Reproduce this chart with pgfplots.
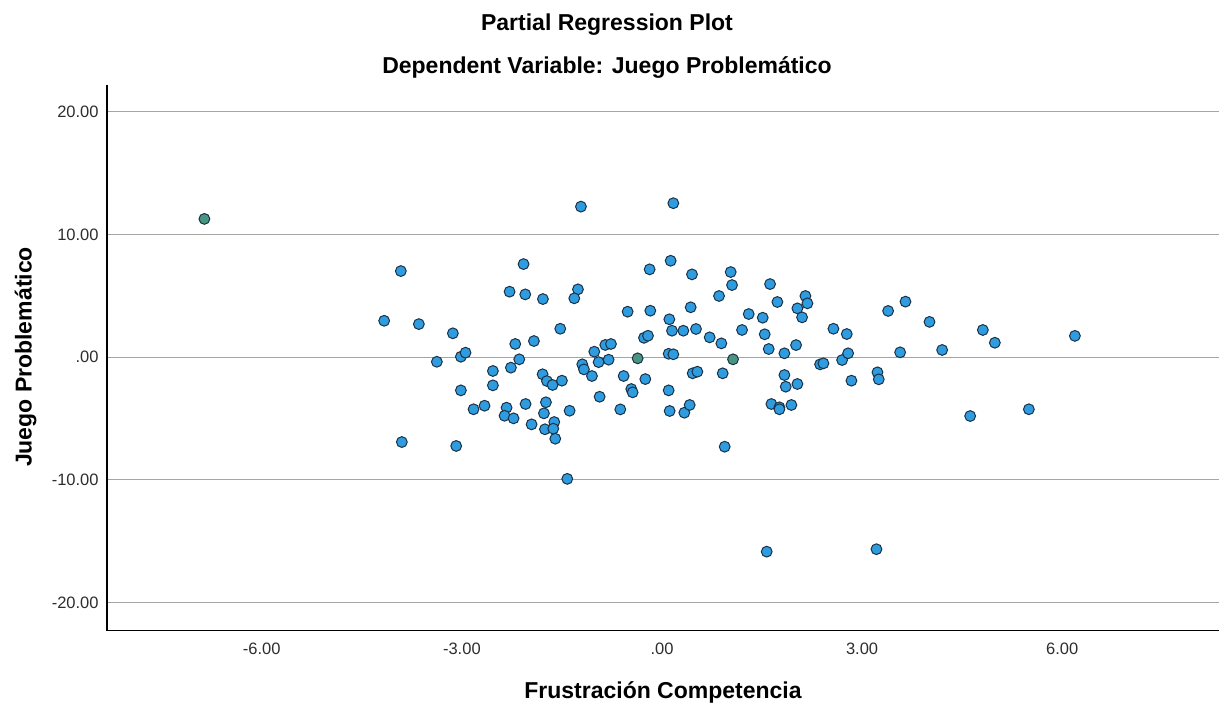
\documentclass[border=0pt]{standalone}
\usepackage{fontspec}
\setmainfont{Liberation Sans}
\usepackage{pgfplots}
\usepackage{pgfplotstable}
\pgfplotsset{compat=1.18}
\definecolor{ptfill}{RGB}{46,156,222}
\definecolor{ptedge}{RGB}{26,50,72}
\definecolor{ptgreen}{RGB}{72,150,128}
\definecolor{gridc}{RGB}{165,165,165}
\definecolor{tickc}{RGB}{45,45,45}

\pgfplotstableread{
x y
-1.42 -9.91
1.57 -15.84
3.215 -15.64
-1.215 12.27
0.17 12.55
-3.915 7.02
-2.075 7.59
-2.285 5.34
-2.05 5.12
-1.785 4.74
-1.26 5.53
-1.315 4.80
-4.165 2.97
-3.645 2.70
-3.135 1.95
-1.525 2.32
-0.185 7.16
0.13 7.86
0.45 6.75
1.03 6.94
1.05 5.88
0.855 4.99
1.62 5.96
1.73 4.50
2.15 4.99
2.18 4.39
2.03 3.98
2.10 3.25
-0.515 3.71
-0.175 3.79
0.43 4.07
0.11 3.09
1.30 3.52
1.51 3.22
2.57 2.32
2.77 1.89
0.15 2.16
0.32 2.16
0.51 2.30
1.20 2.22
1.54 1.87
3.39 3.77
3.65 4.53
4.01 2.88
4.81 2.22
4.99 1.18
6.19 1.74
-2.20 1.08
-1.92 1.32
-3.375 -0.37
-3.015 0.04
-2.945 0.37
-2.14 -0.17
-2.265 -0.85
-2.535 -1.12
-2.535 -2.29
-3.015 -2.70
-1.79 -1.39
-1.725 -1.94
-1.64 -2.26
-1.50 -1.91
-2.825 -4.24
-2.66 -3.95
-2.33 -4.11
-2.36 -4.77
-2.225 -4.98
-2.045 -3.81
-1.74 -3.67
-1.77 -4.57
-1.955 -5.47
-1.755 -5.87
-1.615 -5.28
-1.63 -5.82
-1.60 -6.64
-1.385 -4.36
-0.935 -3.22
-1.195 -0.58
-1.17 -0.99
-1.05 -1.53
-1.015 0.45
-0.95 -0.40
-0.85 1.00
-0.765 1.08
-0.80 -0.20
-3.90 -6.91
-3.085 -7.23
-0.27 1.58
-0.21 1.75
0.715 1.62
0.89 1.13
1.60 0.67
1.835 0.32
2.01 0.99
0.10 0.28
0.17 0.24
2.37 -0.58
2.42 -0.50
2.70 -0.23
2.79 0.32
2.84 -1.91
-0.575 -1.53
-0.25 -1.78
-0.46 -2.59
-0.44 -2.86
0.10 -2.70
0.46 -1.31
0.53 -1.18
0.91 -1.31
-0.625 -4.25
0.115 -4.38
0.335 -4.52
0.415 -3.89
0.94 -7.29
1.835 -1.45
1.855 -2.40
2.03 -2.18
1.64 -3.81
1.76 -4.08
1.76 -4.24
1.94 -3.89
3.57 0.40
4.20 0.59
3.23 -1.23
3.25 -1.80
4.62 -4.79
5.50 -4.24
}\bluepts

\pgfplotstableread{
x y
-6.86 11.27
1.065 -0.17
-0.365 -0.09
}\greenpts

\begin{document}
\begin{tikzpicture}
\path[use as bounding box] (0,0) rectangle (610.5pt,353pt);
\node[anchor=base, font=\fontsize{11.5}{13}\selectfont\bfseries] at (303.5pt,337.65pt) {Partial Regression Plot};
\node[anchor=base, font=\fontsize{11.5}{13}\selectfont\bfseries] at (303.5pt,316pt) {Dependent Variable: Juego Problemático};
\node[anchor=base, font=\fontsize{11.5}{13}\selectfont\bfseries] at (331.5pt,3.85pt) {Frustración Competencia};
\node[anchor=base, rotate=90, font=\fontsize{11.5}{13}\selectfont\bfseries] at (15.85pt,174.5pt) {Juego Problemático};
\begin{axis}[
  at={(53.5pt,37.65pt)}, anchor=south west,
  scale only axis, width=556pt, height=272.85pt,
  xmin=-8.32, xmax=8.35, ymin=-22.28, ymax=22.18,
  axis x line*=bottom, axis y line*=left,
  axis line style={black, line width=0.7pt},
  xtick={-6,-3,0,3,6}, xticklabels={-6.00,-3.00,.00,3.00,6.00},
  ytick={-20,-10,0,10,20}, yticklabels={-20.00,-10.00,.00,10.00,20.00},
  tick style={draw=none},
  ymajorgrids, major grid style={gridc, line width=0.5pt},
  tick label style={font=\fontsize{8.25}{9}\selectfont, text=tickc},
  xticklabel style={anchor=north, inner sep=0pt, yshift=-6pt},
  yticklabel style={anchor=east, inner sep=0pt, xshift=-4pt},
  clip=false,
]
\addplot[only marks, mark=*, mark size=2.7pt, mark options={fill=ptfill, draw=ptedge, line width=0.5pt}] table[x=x,y=y] {\bluepts};
\addplot[only marks, mark=*, mark size=2.7pt, mark options={fill=ptgreen, draw=ptedge, line width=0.5pt}] table[x=x,y=y] {\greenpts};
\end{axis}
\end{tikzpicture}
\end{document}
